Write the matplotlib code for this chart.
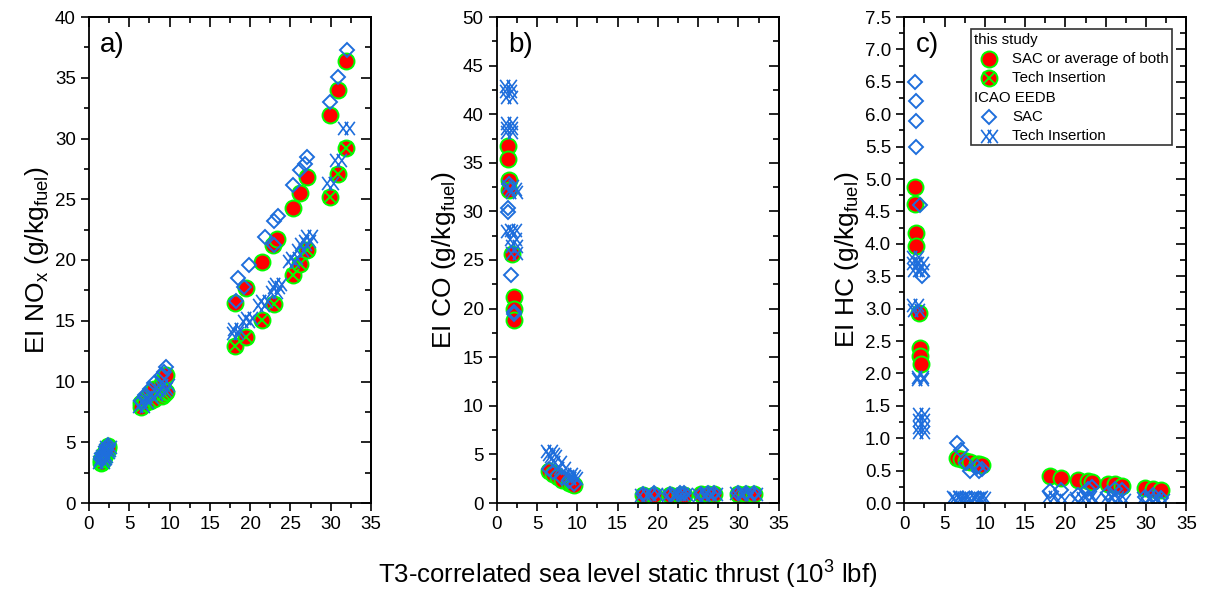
import matplotlib
matplotlib.use("Agg")
import matplotlib.pyplot as plt
from matplotlib.path import Path
from matplotlib.ticker import MultipleLocator, NullFormatter, FormatStrFormatter
from matplotlib.patches import Rectangle

plt.rcParams['font.family'] = ['Liberation Sans', 'DejaVu Sans']
plt.rcParams['mathtext.fontset'] = 'custom'
plt.rcParams['mathtext.rm'] = 'Liberation Sans'
plt.rcParams['mathtext.it'] = 'Liberation Sans:italic'
plt.rcParams['mathtext.default'] = 'regular'

# ---------------- data ----------------
idle_x = [1.5, 1.6, 1.7, 1.9, 2.1, 2.2, 2.3]
appr_x = [6.5, 7.0, 7.6, 8.1, 9.0, 9.3, 9.6]
high_x = [18.1, 19.5, 21.5, 22.8, 23.3, 25.3, 26.2, 27.0, 29.9, 30.9, 31.9]

# Panel a: EI NOx
nox_sac_x = idle_x + appr_x + high_x
nox_sac_y = [3.5, 3.6, 3.8, 4.0, 4.3, 4.5, 4.7,
             8.2, 8.6, 9.0, 9.4, 9.9, 10.2, 10.5,
             16.5, 17.7, 19.8, 21.2, 21.7, 24.3, 25.5, 26.8, 31.9, 34.0, 36.4]
nox_ti_x = idle_x + appr_x + [18.1, 19.5, 21.5, 23.0, 25.3, 26.2, 27.0, 29.9, 30.9, 31.9]
nox_ti_y = [3.3, 3.4, 3.6, 3.8, 4.1, 4.3, 4.5,
            7.9, 8.2, 8.4, 8.6, 8.8, 9.0, 9.1,
            12.9, 13.7, 15.1, 16.4, 18.8, 19.7, 20.8, 25.2, 27.1, 29.2]
nox_icao_sac_x = idle_x + appr_x + [18.2, 18.5, 19.2, 19.8, 21.8, 22.9, 23.0, 23.5,
                                    25.3, 26.2, 26.8, 27.1, 29.9, 30.9, 32.0]
nox_icao_sac_y = [3.6, 3.7, 3.9, 4.1, 4.4, 4.6, 4.8,
                  8.4, 8.9, 9.4, 9.9, 10.5, 10.8, 11.2,
                  16.6, 18.5, 17.8, 19.6, 21.9, 21.2, 23.2, 23.6,
                  26.2, 27.4, 27.9, 28.5, 33.0, 35.1, 37.3]
nox_icao_ti_x = idle_x + appr_x + [18.1, 18.3, 19.5, 19.8, 21.4, 21.7, 22.9, 23.2, 23.4,
                                   25.1, 25.4, 26.2, 26.5, 27.0, 27.3, 29.9, 30.9, 31.9]
nox_icao_ti_y = [3.4, 3.6, 3.7, 3.9, 4.2, 4.4, 4.6,
                 8.0, 8.3, 8.7, 9.0, 9.3, 9.5, 9.7,
                 14.0, 14.3, 15.0, 15.2, 16.3, 16.6, 17.4, 17.8, 18.0,
                 19.9, 20.2, 20.8, 21.3, 21.6, 22.0, 26.3, 28.2, 30.9]

# Panel b: EI CO
co_sac_x = [1.4, 1.4, 1.5, 1.5, 1.9, 2.1, 2.1, 2.2] + appr_x + high_x
co_sac_y = [36.7, 35.4, 33.2, 32.2, 25.6, 21.2, 20.0, 18.8,
            3.3, 3.0, 2.7, 2.4, 2.1, 2.0, 1.9,
            0.8, 0.8, 0.85, 0.85, 0.85, 0.9, 0.9, 0.9, 0.95, 0.95, 0.95]
co_icao_sac_x = [1.5, 1.4, 1.4, 1.8, 2.1, 2.1] + [6.5, 7.0, 8.1, 9.0, 9.6] + high_x
co_icao_sac_y = [32.8, 30.3, 29.9, 23.5, 19.7, 19.4,
                 3.5, 3.2, 2.6, 2.3, 2.0,
                 0.9, 1.0, 0.9, 1.0, 1.0, 0.9, 1.0, 1.0, 1.0, 1.0, 1.0]
co_icao_ti_x = [1.4, 1.4, 1.5, 1.5, 1.5, 1.5, 1.6, 2.0, 2.1, 1.5, 2.0, 2.0, 2.1, 2.1] + \
               [6.5, 6.7, 7.0, 7.6, 8.1, 9.0, 9.3, 9.6] + high_x
co_icao_ti_y = [42.9, 42.4, 41.8, 39.1, 38.6, 38.2, 32.6, 32.3, 32.0, 28.0, 28.1, 27.2, 26.4, 25.7,
                5.3, 5.0, 4.8, 4.2, 3.6, 3.0, 2.8, 2.6,
                0.8, 0.9, 0.8, 0.9, 0.9, 0.8, 0.9, 0.9, 1.0, 0.95, 0.95]

# Panel c: EI HC
hc_sac_x = [1.3, 1.3, 1.4, 1.4, 1.8, 2.0, 2.0, 2.1] + appr_x + high_x
hc_sac_y = [4.87, 4.62, 4.17, 3.97, 2.93, 2.39, 2.27, 2.14,
            0.70, 0.68, 0.65, 0.63, 0.60, 0.60, 0.58,
            0.41, 0.39, 0.36, 0.34, 0.33, 0.30, 0.29, 0.27, 0.23, 0.22, 0.20]
hc_icao_sac_x = [1.35, 1.4, 1.4, 1.45, 1.9, 2.2] + appr_x + high_x
hc_icao_sac_y = [6.5, 6.2, 5.9, 5.5, 4.6, 3.5,
                 0.92, 0.82, 0.62, 0.50, 0.55, 0.50, 0.52,
                 0.18, 0.20, 0.12, 0.22, 0.25, 0.15, 0.22, 0.20, 0.10, 0.12, 0.08]
hc_icao_ti_x = [1.3, 1.35, 1.4, 2.0, 2.1, 1.3, 1.45, 1.9, 2.0, 2.1, 2.1, 2.1, 2.1] + \
               [6.3, 6.5, 7.0, 7.6, 8.1, 9.0, 9.3, 9.6] + high_x
hc_icao_ti_y = [3.8, 3.7, 3.6, 3.7, 3.6, 3.05, 2.98, 1.95, 1.92, 1.38, 1.28, 1.18, 1.10,
                0.10, 0.08, 0.10, 0.08, 0.10, 0.08, 0.10, 0.08,
                0.10, 0.05, 0.08, 0.10, 0.05, 0.08, 0.10, 0.05, 0.08, 0.10, 0.05]

legend_labels = ["this study", "SAC or average of both", "Tech Insertion",
                 "ICAO EEDB", "SAC", "Tech Insertion"]
panel_labels = ["a)", "b)", "c)"]
ylabels = ["EI NO$_x$ (g/kg$_{fuel}$)", "EI CO (g/kg$_{fuel}$)", "EI HC (g/kg$_{fuel}$)"]
xlabel = "T3-correlated sea level static thrust (10$^3$ lbf)"

# ---------------- styles ----------------
RED = '#FF0000'
GREEN = '#00FF00'
BLUE = '#1E6EDC'

# double-cross marker (two overlapping X's)
c, hw, hh = 0.2, 0.3, 0.4
xx_marker = Path([(-c - hw, -hh), (-c + hw, hh), (-c - hw, hh), (-c + hw, -hh),
                  (c - hw, -hh), (c + hw, hh), (c - hw, hh), (c + hw, -hh)],
                 [Path.MOVETO, Path.LINETO] * 4)

sty_sac = dict(ls='none', marker='o', ms=11.5, mfc=RED, mec=GREEN, mew=1.4)
sty_tix = dict(ls='none', marker='x', ms=9, mec=GREEN, mew=1.4)
sty_isac = dict(ls='none', marker='D', ms=7, mfc='none', mec=BLUE, mew=1.4)
sty_iti = dict(ls='none', marker=xx_marker, ms=12, mfc='none', mec=BLUE, mew=1.2)

fig = plt.figure(figsize=(12.07, 5.90), dpi=100)
W, H = 1207, 590
lefts = [89, 496.7, 904.3]
axw = 282
top, bottom = 17, 503

ylims = [(0, 40), (0, 50), (0, 7.5)]
ymaj = [5, 5, 0.5]
ymin = [2.5, 2.5, 0.25]
yfmt = ['%d', '%d', '%.1f']

data = [
    (nox_sac_x, nox_sac_y, nox_ti_x, nox_ti_y, nox_icao_sac_x, nox_icao_sac_y, nox_icao_ti_x, nox_icao_ti_y),
    (co_sac_x, co_sac_y, None, None, co_icao_sac_x, co_icao_sac_y, co_icao_ti_x, co_icao_ti_y),
    (hc_sac_x, hc_sac_y, None, None, hc_icao_sac_x, hc_icao_sac_y, hc_icao_ti_x, hc_icao_ti_y),
]

axes = []
for i in range(3):
    ax = fig.add_axes([lefts[i] / W, (H - bottom) / H, axw / W, (bottom - top) / H])
    axes.append(ax)
    sx, sy, tx, ty, isx, isy, itx, ity = data[i]
    ax.plot(sx, sy, **sty_sac)
    if tx is not None:
        ax.plot(tx, ty, **sty_sac)
        ax.plot(tx, ty, **sty_tix)
    ax.plot(isx, isy, **sty_isac)
    ax.plot(itx, ity, **sty_iti)

    ax.set_xlim(0, 35)
    ax.set_ylim(*ylims[i])
    ax.xaxis.set_major_locator(MultipleLocator(5))
    ax.xaxis.set_minor_locator(MultipleLocator(2.5))
    ax.yaxis.set_major_locator(MultipleLocator(ymaj[i]))
    ax.yaxis.set_minor_locator(MultipleLocator(ymin[i]))
    ax.yaxis.set_major_formatter(FormatStrFormatter(yfmt[i]))
    ax.tick_params(which='both', direction='out', labelsize=13.5, width=1.2, colors='black')
    ax.tick_params(which='major', length=6)
    ax.tick_params(which='minor', length=3.5)
    for sp in ax.spines.values():
        sp.set_linewidth(1.3)

    secx = ax.secondary_xaxis('top')
    secx.xaxis.set_major_locator(MultipleLocator(5))
    secx.xaxis.set_minor_locator(MultipleLocator(2.5))
    secx.xaxis.set_major_formatter(NullFormatter())
    secx.tick_params(which='both', direction='in', width=1.2)
    secx.tick_params(which='major', length=7)
    secx.tick_params(which='minor', length=4.5)
    secx.spines['top'].set_linewidth(1.3)

    secy = ax.secondary_yaxis('right')
    secy.yaxis.set_major_locator(MultipleLocator(ymaj[i]))
    secy.yaxis.set_minor_locator(MultipleLocator(ymin[i]))
    secy.yaxis.set_major_formatter(NullFormatter())
    secy.tick_params(which='both', direction='in', width=1.2)
    secy.tick_params(which='major', length=7)
    secy.tick_params(which='minor', length=4.5)
    secy.spines['right'].set_linewidth(1.3)

    ax.set_ylabel(ylabels[i], fontsize=19, labelpad=3)
    ax.text(0.04, 0.942, panel_labels[i], transform=ax.transAxes, fontsize=20,
            ha='left', va='center')

fig.text(0.52, 0.025, xlabel, ha='center', va='center', fontsize=18.5)

# ---------------- legend (panel c) ----------------
axc = axes[2]
x0, x1 = 0.237, 0.949
yt, yb = 0.975, 0.737
axc.add_patch(Rectangle((x0, yb), x1 - x0, yt - yb, transform=axc.transAxes,
                        fill=True, facecolor='white', edgecolor='#333333', lw=1.2, zorder=5))
rows = [0.952, 0.914, 0.875, 0.833, 0.795, 0.756]
mx = 0.3
tx_lab = 0.382
tx_head = 0.246
fs = 10.8
axc.text(tx_head, rows[0], legend_labels[0], transform=axc.transAxes, fontsize=fs, va='center', zorder=6)
axc.plot([mx], [rows[1]], transform=axc.transAxes, clip_on=False, zorder=6, **sty_sac)
axc.text(tx_lab, rows[1], legend_labels[1], transform=axc.transAxes, fontsize=fs, va='center', zorder=6)
axc.plot([mx], [rows[2]], transform=axc.transAxes, clip_on=False, zorder=6, **sty_sac)
axc.plot([mx], [rows[2]], transform=axc.transAxes, clip_on=False, zorder=7, **sty_tix)
axc.text(tx_lab, rows[2], legend_labels[2], transform=axc.transAxes, fontsize=fs, va='center', zorder=6)
axc.text(tx_head, rows[3], legend_labels[3], transform=axc.transAxes, fontsize=fs, va='center', zorder=6)
axc.plot([mx], [rows[4]], transform=axc.transAxes, clip_on=False, zorder=6, **sty_isac)
axc.text(tx_lab, rows[4], legend_labels[4], transform=axc.transAxes, fontsize=fs, va='center', zorder=6)
axc.plot([mx], [rows[5]], transform=axc.transAxes, clip_on=False, zorder=6, **sty_iti)
axc.text(tx_lab, rows[5], legend_labels[5], transform=axc.transAxes, fontsize=fs, va='center', zorder=6)

fig.savefig("out.png", dpi=100)
